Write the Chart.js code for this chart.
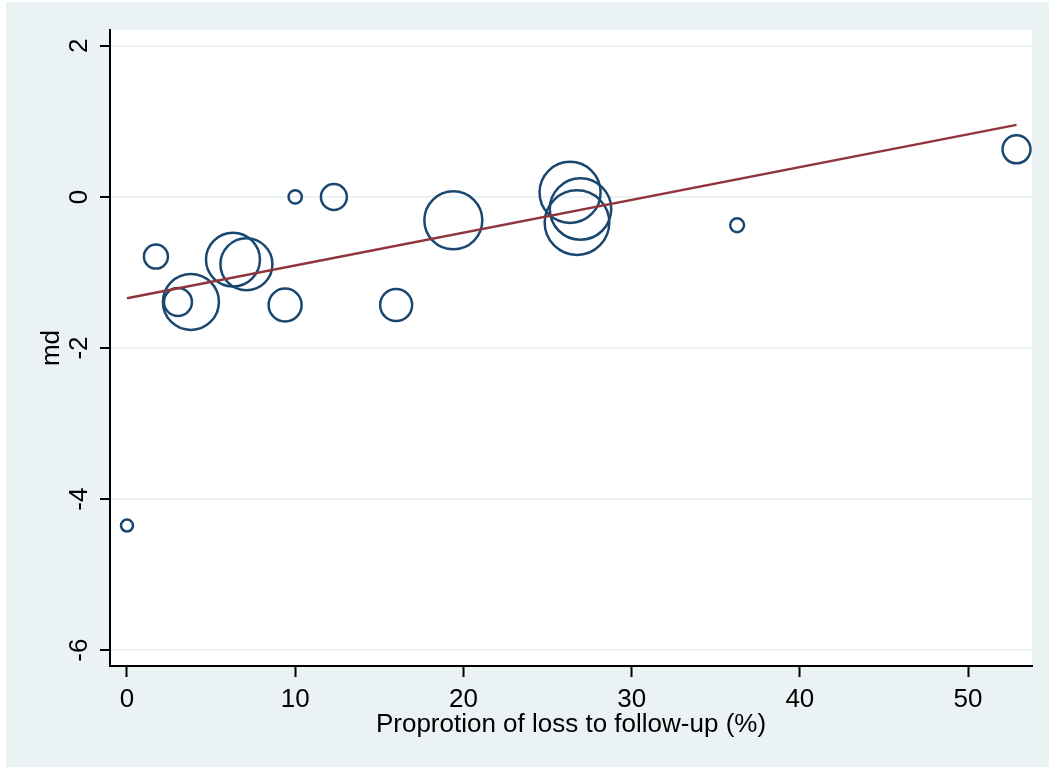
<!DOCTYPE html>
<html>
<head>
<meta charset="utf-8">
<title>md vs loss to follow-up</title>
<script src="https://cdn.jsdelivr.net/npm/chart.js@4/dist/chart.umd.min.js"></script>
<style>
  html, body { margin: 0; padding: 0; background: #ffffff; }
  #wrap { position: relative; width: 1049px; height: 767px; }
  canvas { display: block; }
</style>
</head>
<body>
<div id="wrap"><canvas id="c" width="1049" height="767"></canvas></div>
<script>
// Study-level data: proportion lost to follow-up (%), mean difference, study weight
const lossPct = [0, 1.72, 3.03, 3.8, 6.3, 7.1, 9.4, 10.0, 12.3, 16.0, 19.4, 26.34, 26.96, 26.75, 36.27, 52.88];
const md      = [-4.35, -0.79, -1.39, -1.39, -0.83, -0.89, -1.43, 0.0, 0.0, -1.43, -0.31, 0.06, -0.16, -0.34, -0.375, 0.63];
const weight  = [9, 36, 49, 196, 182, 169, 68, 11, 42, 64, 210, 233, 236, 261, 12, 49];

// Fitted meta-regression line (endpoints over the observed range)
const fitX = [0, 52.88];
const fitY = [-1.342, 0.954];

// Axis ticks
const xTicks = [0, 10, 20, 30, 40, 50];
const yTicks = [-6, -4, -2, 0, 2];

const NAVY = '#1a476f';
const MAROON = '#90353b';
const BG = '#eaf2f3';
const FONT = 'Liberation Sans, Arial, Helvetica, sans-serif';

const bubbles = lossPct.map((x, i) => ({ x: x, y: md[i], w: weight[i] }));
const fitLine = fitX.map((x, i) => ({ x: x, y: fitY[i] }));

// Graph region background and white plot region
const backdrop = {
  id: 'backdrop',
  beforeDraw(chart) {
    const { ctx, chartArea: a } = chart;
    ctx.save();
    ctx.fillStyle = '#ffffff';
    ctx.fillRect(0, 0, chart.width, chart.height);
    ctx.fillStyle = BG;
    ctx.fillRect(6, 2, chart.width - 6, chart.height - 2);
    ctx.fillStyle = '#ffffff';
    ctx.fillRect(a.left, a.top, a.right - a.left, a.bottom - a.top);
    ctx.restore();
  }
};

new Chart(document.getElementById('c'), {
  type: 'bubble',
  data: {
    datasets: [
      {
        type: 'line',
        data: fitLine,
        borderColor: MAROON,
        borderWidth: 2.5,
        pointRadius: 0,
        fill: false,
        order: 0
      },
      {
        type: 'bubble',
        data: bubbles,
        radius: (c) => 2 * Math.sqrt(c.raw.w),
        borderColor: NAVY,
        backgroundColor: 'rgba(0,0,0,0)',
        borderWidth: 2.5,
        hoverRadius: 0,
        clip: false,
        order: 1
      }
    ]
  },
  plugins: [backdrop],
  options: {
    responsive: false,
    animation: false,
    events: [],
    layout: { autoPadding: false, padding: { left: 0, top: 30, right: 17, bottom: 0 } },
    plugins: { legend: { display: false }, tooltip: { enabled: false } },
    scales: {
      x: {
        type: 'linear',
        min: -1.01,
        max: 53.8,
        afterBuildTicks: (s) => { s.ticks = xTicks.map(v => ({ value: v })); },
        afterFit: (s) => {
          s.height = 101;
          s.paddingLeft = 0; s.paddingRight = 0;
        },
        ticks: {
          includeBounds: false,
          color: '#000',
          font: { family: FONT, size: 26 },
          padding: 7,
          maxRotation: 0,
          autoSkip: false
        },
        grid: {
          drawOnChartArea: false,
          drawTicks: true,
          tickLength: 11,
          tickColor: '#000',
          tickWidth: 2
        },
        border: { display: true, color: '#000', width: 2 },
        title: {
          display: true,
          text: 'Proprotion of loss to follow-up (%)',
          color: '#000',
          font: { family: FONT, size: 26 },
          padding: { top: 0, bottom: 27 }
        }
      },
      y: {
        type: 'linear',
        min: -6.21,
        max: 2.21,
        afterBuildTicks: (s) => { s.ticks = yTicks.map(v => ({ value: v })); },
        afterFit: (s) => {
          s.width = 110;
          s.paddingTop = 0; s.paddingBottom = 0;
        },
        ticks: {
          includeBounds: false,
          color: '#000',
          font: { family: FONT, size: 26 },
          padding: 9,
          minRotation: 90,
          maxRotation: 90,
          crossAlign: 'center',
          autoSkip: false
        },
        grid: {
          color: BG,
          lineWidth: 2,
          drawTicks: true,
          tickLength: 10,
          tickColor: '#000',
          tickWidth: 2
        },
        border: { display: true, color: '#000', width: 2 },
        title: {
          display: true,
          text: 'md',
          color: '#000',
          font: { family: FONT, size: 26 },
          padding: { top: 36, bottom: 0 }
        }
      }
    }
  }
});
</script>
</body>
</html>
